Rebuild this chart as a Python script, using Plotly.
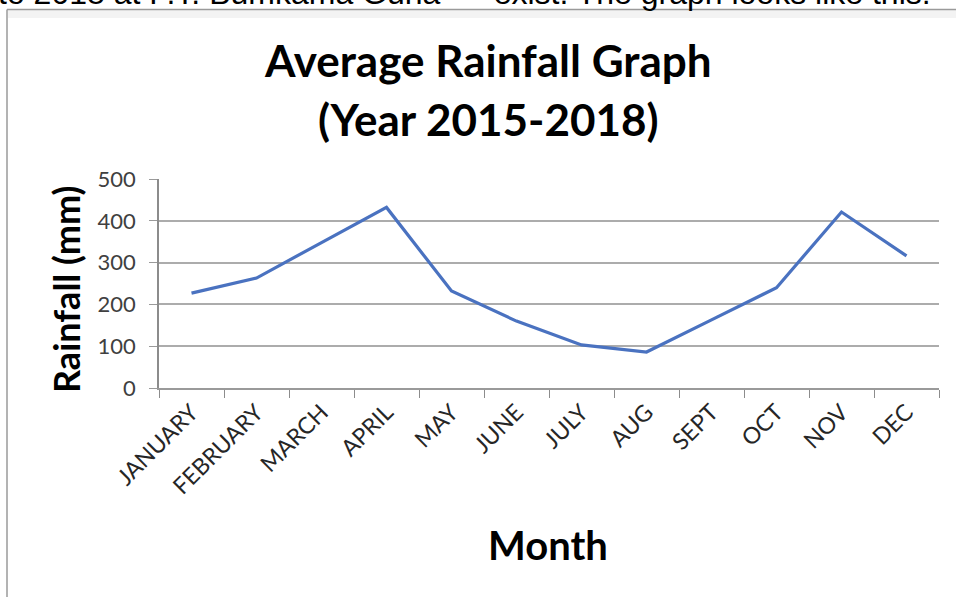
import plotly.graph_objects as go

months = ["JANUARY", "FEBRUARY", "MARCH", "APRIL", "MAY", "JUNE",
          "JULY", "AUG", "SEPT", "OCT", "NOV", "DEC"]
rainfall = [227, 263, 348, 432, 232, 160, 103, 86, 163, 240, 421, 316]
y_ticks = [0, 100, 200, 300, 400, 500]

W, H = 956, 597
L, R, T, B = 159, 17, 179, 209
pw, ph = W - L - R, H - T - B


def px(x):
    return (x - L) / pw


def py(y):
    return (H - B - y) / ph


fig = go.Figure()
fig.add_trace(go.Scatter(
    x=months, y=rainfall, mode="lines",
    line=dict(color="#4A72C0", width=3.2),
    hoverinfo="x+y", showlegend=False,
))

font = "Lato, Open Sans, sans-serif"
sp = "\u00a0"

fig.update_layout(
    width=W, height=H,
    margin=dict(l=L, r=R, t=T, b=B, autoexpand=False),
    paper_bgcolor="white", plot_bgcolor="white",
    showlegend=False,
    xaxis=dict(
        type="category", range=[-0.5, 11.5],
        showgrid=False, zeroline=False,
        showline=True, linecolor="#9a9a9a", linewidth=1.5,
        ticks="outside", ticklen=8, tickcolor="#8c8c8c", tickwidth=1,
        tickson="boundaries",
        tickangle=-45, tickfont=dict(family=font, size=23, color="#262626"),
        automargin=False,
    ),
    yaxis=dict(
        range=[0, 500], tickvals=y_ticks,
        showgrid=True, gridcolor="#acacac", gridwidth=1.5,
        zeroline=False,
        showline=True, linecolor="#8c8c8c", linewidth=1.5,
        ticks="outside", ticklen=8, tickcolor="#9a9a9a",
        tickfont=dict(family=font, size=22, color="#404040"),
        ticklabelstandoff=9,
        automargin=False,
    ),
    annotations=[
        dict(text="<b>Average Rainfall Graph</b>", x=px(488), y=py(60),
             xref="paper", yref="paper", showarrow=False,
             font=dict(family=font, size=44, color="#000"),
             xanchor="center", yanchor="middle"),
        dict(text="<b>(Year 2015-2018)</b>", x=px(488), y=py(119),
             xref="paper", yref="paper", showarrow=False,
             font=dict(family=font, size=44, color="#000"),
             xanchor="center", yanchor="middle"),
        dict(text="<b>Month</b>", x=px(548), y=py(545),
             xref="paper", yref="paper", showarrow=False,
             font=dict(family=font, size=40, color="#000"),
             xanchor="center", yanchor="middle"),
        dict(text="<b>Rainfall (mm)</b>", x=px(66), y=py(290),
             xref="paper", yref="paper", showarrow=False, textangle=-90,
             font=dict(family=font, size=36, color="#000"),
             xanchor="center", yanchor="middle"),
        dict(text="to 2018 at P.T. Bumkama Guna" + sp * 6 + "exist. The graph looks like this:",
             x=px(-4), y=py(13),
             xref="paper", yref="paper", showarrow=False,
             font=dict(family="Liberation Sans, Arial, sans-serif", size=32, color="#000"),
             xanchor="left", yanchor="bottom"),
    ],
    shapes=[
        dict(type="rect", xref="paper", yref="paper",
             x0=px(8), x1=px(956), y0=py(10), y1=py(18),
             fillcolor="#f3f3f3", line=dict(width=0), layer="below"),
        dict(type="line", xref="paper", yref="paper",
             x0=px(7), x1=px(956), y0=py(9.5), y1=py(9.5),
             line=dict(color="#9a9a9a", width=1.5)),
        dict(type="line", xref="paper", yref="paper",
             x0=px(7), x1=px(7), y0=py(9.5), y1=py(597),
             line=dict(color="#9a9a9a", width=1.5)),
    ],
)

fig.write_html("out.html")
